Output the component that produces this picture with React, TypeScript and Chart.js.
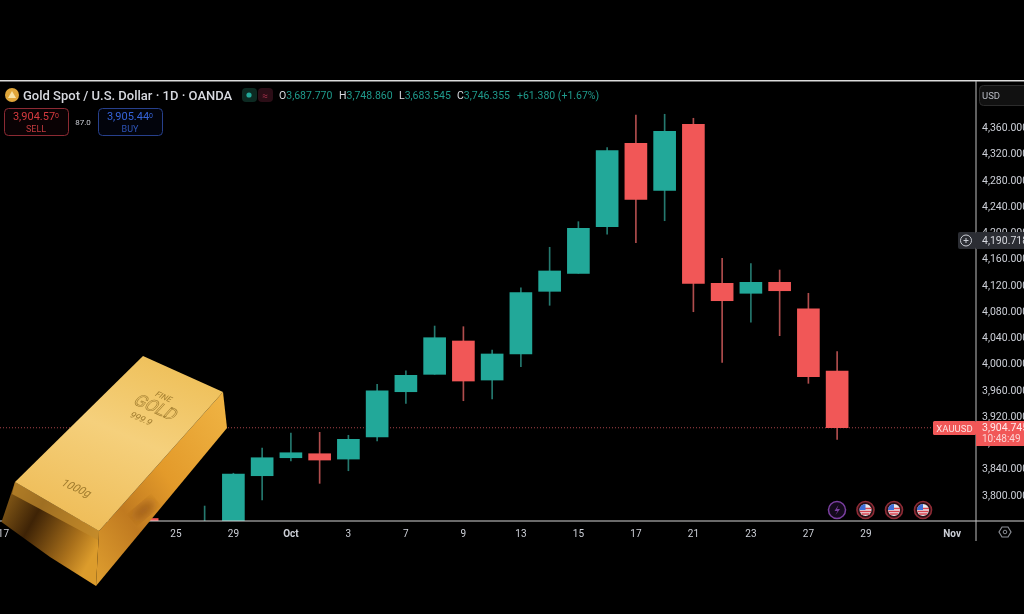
import { useEffect, useRef } from 'react';
import { Chart } from 'chart.js/auto';

// candles (slot = trading day position on the time axis)
const slots = [5, 6, 7, 8, 9, 10, 11, 12, 13, 14, 15, 16, 17, 18, 19, 20, 21, 22, 23, 24, 25, 26, 27, 28, 29];
const opens = [3764, 3750, 3745, 3745, 3829.2, 3856.6, 3862.7, 3854.6, 3888.2, 3957.2, 3983.7, 4034.5, 3975, 4014.7, 4110.2, 4137.6, 4208.7, 4335.8, 4264.1, 4364.7, 4122.4, 4107.2, 4123.9, 4083.7, 3988.8];
const highs = [3764, 3755, 3783, 3833, 3871.4, 3894.3, 3895.3, 3890.8, 3968.5, 3989.2, 4057.3, 4056.3, 4020.8, 4115.7, 4177.3, 4216.3, 4329.1, 4378.9, 4380, 4373.9, 4160.5, 4152.3, 4142.7, 4107.2, 4018.2];
const lows = [3720, 3725, 3735, 3730, 3792.2, 3851.6, 3817.6, 3836.8, 3882.1, 3939.5, 3983.7, 3943.5, 3946.1, 3995.3, 4088.9, 4137.6, 4197.1, 4184.3, 4217.8, 4079.1, 4002, 4063, 4042.6, 3970, 3884.7];
const closes = [3735, 3738, 3755, 3831.8, 3856.6, 3864.2, 3853.1, 3884.7, 3958.7, 3982.2, 4039.5, 3973.5, 4014.7, 4108.1, 4141.2, 4206.2, 4324.5, 4250.4, 4354.1, 4122.4, 4095.9, 4123.9, 4111.1, 3980.1, 3902.3];

const priceTicks = [3800, 3840, 3880, 3920, 3960, 4000, 4040, 4080, 4120, 4160, 4200, 4240, 4280, 4320, 4360];
const timeTickSlots = [0, 2, 4, 6, 8, 10, 12, 14, 16, 18, 20, 22, 24, 26, 28, 30, 33];
const timeTickLabels = ['17', '19', '23', '25', '29', 'Oct', '3', '7', '9', '13', '15', '17', '21', '23', '27', '29', 'Nov'];
const lastPrice = 3902.3;

const X_MIN = -0.118;
const X_MAX = 33.83;
const Y_MIN = 3760.2;
const Y_MAX = 4430.7;

const UP = '#22a899';
const DOWN = '#f15757';
const UP_WICK = '#25796f';
const DOWN_WICK = '#b04d4d';
const AXIS_TEXT = '#cdd0d8';
const FONT = 'Roboto, sans-serif';

const isUp = (i: number) => closes[i] >= opens[i];

function Flag({ x }: { x: number }) {
  return (
    <g transform={`translate(${x},510)`}>
      <circle r={8.5} fill="#2a1015" stroke="#8e2b35" strokeWidth={1.6} />
      <circle r={6} fill="#e8e8ee" />
      <path d="M-6 -1.5H6M-5.5 1.5H5.5M-4 4H4" stroke="#d9434e" strokeWidth={1.4} />
      <path d="M-6 0A6 6 0 0 1 0 -6V0Z" fill="#3f6fd8" />
    </g>
  );
}

function GoldBar() {
  return (
    <g>
      <defs>
        <linearGradient id="goldTop" x1="0.75" y1="0" x2="0.25" y2="1">
          <stop offset="0" stopColor="#eebf58" />
          <stop offset="0.45" stopColor="#f5d07c" />
          <stop offset="1" stopColor="#eebb55" />
        </linearGradient>
        <linearGradient id="goldSide" x1="1" y1="0" x2="0" y2="1">
          <stop offset="0" stopColor="#f0b545" />
          <stop offset="0.45" stopColor="#e39a2a" />
          <stop offset="0.7" stopColor="#c07a20" />
          <stop offset="1" stopColor="#e0a030" />
        </linearGradient>
        <linearGradient id="goldFront" x1="0" y1="0" x2="1" y2="0.6">
          <stop offset="0" stopColor="#9a6a1c" />
          <stop offset="0.4" stopColor="#3e2306" />
          <stop offset="0.8" stopColor="#a9701b" />
          <stop offset="1" stopColor="#dc9c2c" />
        </linearGradient>
        <filter id="soft"><feGaussianBlur stdDeviation="4" /></filter>
      </defs>
      <polygon points="15,482 99,531 96,586 50,557 1.5,522" fill="url(#goldFront)" />
      <polygon points="15,482 99,531 98,540 12,494" fill="#c08a2c" opacity={0.75} />
      <polygon points="223,392 227,428 96,586 99,531" fill="url(#goldSide)" />
      <ellipse cx={144} cy={510} rx={13} ry={6} transform="rotate(-40 144 510)" fill="#8a4c12" opacity={0.6} filter="url(#soft)" />
      <polygon points="143,356 223,392 99,531 15,482" fill="url(#goldTop)" />
      <g fill="#a17c2e" textAnchor="middle" fontFamily={FONT}>
        <text transform="translate(162,399) rotate(24) skewX(-18)" fontSize={8}>FINE</text>
        <text transform="translate(152,412) rotate(24) skewX(-18)" fontSize={17} fill="none" stroke="#a17c2e" strokeWidth={0.6}>GOLD</text>
        <text transform="translate(139,421) rotate(24) skewX(-18)" fontSize={9}>999.9</text>
        <text transform="translate(74,491) rotate(24) skewX(-18)" fontSize={11}>1000g</text>
      </g>
    </g>
  );
}

function Overlay() {
  const ohlc = { fontSize: 10.5, fontFamily: FONT };
  return (
    <svg width={1024} height={614} style={{ position: 'absolute', left: 0, top: 0, pointerEvents: 'none' }}>
      {/* frame lines */}
      <rect x={0} y={80} width={1024} height={1.5} fill="#dcdcdc" />
      <rect x={0} y={520.5} width={1024} height={1} fill="#d4d4d4" />
      <rect x={975.5} y={81} width={1} height={460} fill="#bdbdbd" />

      {/* header */}
      <circle cx={12} cy={95} r={7} fill="#e0a63a" />
      <path d="M8 98L12 91L16 98Z" fill="#f7e2a6" />
      <text x={23} y={99.5} fontSize={13} fontWeight={500} fontFamily={FONT} fill="#d8dae0">Gold Spot / U.S. Dollar · 1D · OANDA</text>
      <rect x={242} y={88} width={15} height={14} rx={4} fill="#0c2a22" />
      <circle cx={249} cy={95} r={2.6} fill="#22a899" />
      <rect x={258} y={88} width={15} height={14} rx={4} fill="#2b0d16" />
      <text x={265} y={98.5} fontSize={10} textAnchor="middle" fontFamily={FONT} fill="#a3304a">≈</text>
      <text y={99} {...ohlc} fill="#1f9a8c">
        <tspan x={279} fill="#d8dae0">O</tspan><tspan>3,687.770</tspan>
        <tspan x={339} fill="#d8dae0">H</tspan><tspan>3,748.860</tspan>
        <tspan x={399} fill="#d8dae0">L</tspan><tspan>3,683.545</tspan>
        <tspan x={457} fill="#d8dae0">C</tspan><tspan>3,746.355</tspan>
        <tspan x={517}>+61.380 (+1.67%)</tspan>
      </text>

      {/* sell / buy */}
      <rect x={4.5} y={108.5} width={64} height={27} rx={4} fill="#0a0204" stroke="#8c2a33" />
      <text x={36} y={120} fontSize={11} textAnchor="middle" fontFamily={FONT} fill="#d63a3f">3,904.57<tspan fontSize={7} dy={-2}>0</tspan></text>
      <text x={36} y={132} fontSize={9} textAnchor="middle" fontFamily={FONT} fill="#c23a3f">SELL</text>
      <text x={83} y={125} fontSize={8} textAnchor="middle" fontFamily={FONT} fill="#c9ccd3">87.0</text>
      <rect x={98.5} y={108.5} width={64} height={27} rx={4} fill="#02040c" stroke="#27408c" />
      <text x={130} y={120} fontSize={11} textAnchor="middle" fontFamily={FONT} fill="#3563d8">3,905.44<tspan fontSize={7} dy={-2}>0</tspan></text>
      <text x={130} y={132} fontSize={9} textAnchor="middle" fontFamily={FONT} fill="#2f55b8">BUY</text>

      {/* currency button */}
      <rect x={979.5} y={85.5} width={50} height={20} rx={4} fill="#111" stroke="#2c2c2c" />
      <text x={982} y={98.5} fontSize={9.5} fontFamily={FONT} fill="#b9bcc4">USD</text>

      {/* crosshair tag */}
      <rect x={958} y={232} width={18} height={17} rx={2} fill="#2b2d33" />
      <circle cx={966} cy={240.5} r={5.5} fill="none" stroke="#c9ccd3" />
      <path d="M963.5 240.5H968.5M966 238V243" stroke="#c9ccd3" />
      <rect x={976} y={232} width={48} height={17} fill="#2b2d33" />
      <text x={982} y={244} fontSize={10.5} fontFamily={FONT} fill="#d8dae0">4,190.718</text>

      {/* last price tags */}
      <rect x={933} y={421} width={43} height={14} rx={1.5} fill="#f15757" />
      <text x={954.5} y={431.5} fontSize={9.5} textAnchor="middle" fontFamily={FONT} fill="#fbe3e3">XAUUSD</text>
      <rect x={976} y={421} width={48} height={25} fill="#f15757" />
      <text x={982} y={431} fontSize={10.5} fontFamily={FONT} fill="#fdeaea">3,904.745</text>
      <text x={982} y={442} fontSize={10} fontFamily={FONT} fill="#fbd3d3">10:48:49</text>

      {/* events */}
      <circle cx={837} cy={510} r={8.5} fill="#140a1c" stroke="#7b3fa0" strokeWidth={1.5} />
      <path d="M838.5 505L834.5 511H837.5L835.5 515L840 509H837Z" fill="#7b3fa0" />
      <Flag x={865.5} />
      <Flag x={894} />
      <Flag x={923} />

      {/* settings */}
      <polygon points="999,532 1002,527 1008,527 1011,532 1008,537 1002,537" fill="none" stroke="#8b8e95" strokeWidth={1.2} />
      <circle cx={1005} cy={532} r={1.8} fill="none" stroke="#8b8e95" />

      <GoldBar />
    </svg>
  );
}

export default function App() {
  const ref = useRef<HTMLCanvasElement>(null);

  useEffect(() => {
    if (!ref.current) return;
    const chart = new Chart(ref.current, {
      type: 'bar',
      data: {
        datasets: [
          {
            type: 'line',
            data: [{ x: X_MIN, y: lastPrice }, { x: X_MAX, y: lastPrice }],
            borderColor: '#a8434a',
            borderWidth: 1,
            borderDash: [1, 2],
            pointRadius: 0,
            order: 3,
          },
          {
            data: slots.map((x, i) => ({ x, y: [lows[i], highs[i]] })),
            backgroundColor: slots.map((_, i) => (isUp(i) ? UP_WICK : DOWN_WICK)),
            barThickness: 1,
            maxBarThickness: 1,
            barPercentage: 1,
            categoryPercentage: 1,
            grouped: false,
            borderSkipped: false,
            order: 2,
          },
          {
            data: slots.map((x, i) => ({ x, y: [opens[i], closes[i]] })),
            backgroundColor: slots.map((_, i) => (isUp(i) ? UP : DOWN)),
            barThickness: 22,
            maxBarThickness: 22,
            barPercentage: 1,
            categoryPercentage: 1,
            grouped: false,
            borderSkipped: false,
            order: 1,
          },
        ] as any,
      },
      options: {
        responsive: false,
        animation: false,
        layout: { padding: { top: 81 } },
        plugins: { legend: { display: false }, tooltip: { enabled: false } },
        scales: {
          x: {
            type: 'linear',
            min: X_MIN,
            max: X_MAX,
            offset: false,
            grid: { display: false, offset: false, drawTicks: false },
            border: { display: false },
            afterBuildTicks: (axis: any) => { axis.ticks = timeTickSlots.map((value) => ({ value })); },
            afterFit: (axis: any) => { axis.height = 93; axis.paddingLeft = 0; axis.paddingRight = 0; },
            ticks: {
              autoSkip: false,
              maxRotation: 0,
              padding: 7,
              color: AXIS_TEXT,
              font: (ctx: any) => ({ family: FONT, size: 10, weight: ctx.tick && (ctx.tick.value === 10 || ctx.tick.value === 33) ? 'bold' : 'normal' }),
              callback: (v: any) => timeTickLabels[timeTickSlots.indexOf(v)] ?? '',
            },
          },
          y: {
            position: 'right',
            min: Y_MIN,
            max: Y_MAX,
            grid: { display: false, drawTicks: false },
            border: { display: false },
            afterBuildTicks: (axis: any) => { axis.ticks = priceTicks.map((value) => ({ value })); },
            afterFit: (axis: any) => { axis.width = 48; },
            ticks: {
              autoSkip: false,
              padding: 6,
              labelOffset: 1,
              color: AXIS_TEXT,
              font: { family: FONT, size: 10.5 },
              callback: (v: any) => Number(v).toLocaleString('en-US', { minimumFractionDigits: 3 }),
            },
          },
        },
      },
    } as any);
    return () => chart.destroy();
  }, []);

  return (
    <div style={{ position: 'fixed', left: 0, top: 0, width: 1024, height: 614, background: '#000', overflow: 'hidden' }}>
      <canvas ref={ref} width={1024} height={614} style={{ display: 'block' }} />
      <Overlay />
    </div>
  );
}
